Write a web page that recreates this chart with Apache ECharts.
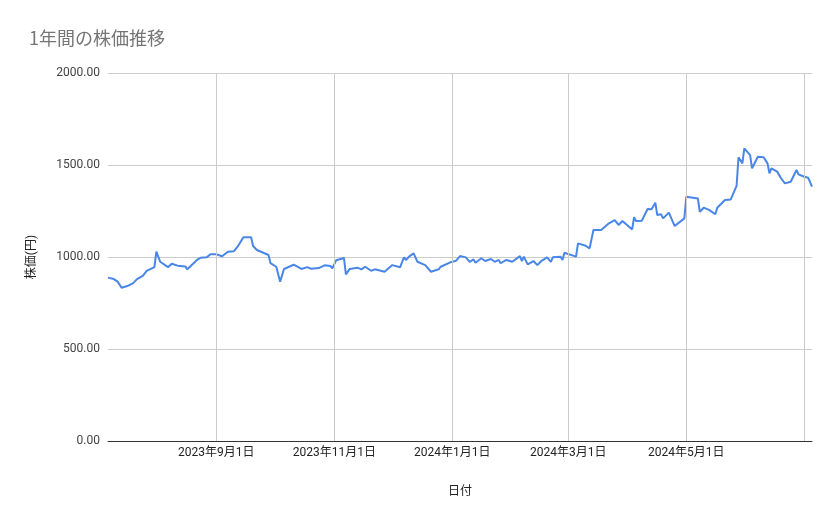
<!DOCTYPE html>
<html>
<head>
<meta charset="utf-8">
<script src="https://cdn.jsdelivr.net/npm/echarts@6/dist/echarts.min.js"></script>
<style>
html,body{margin:0;padding:0;background:#fff;}
#main{width:839px;height:519px;}
</style>
</head>
<body>
<div id="main"></div>
<script>
// 日付と株価
var dates = [
 '2023-07-07','2023-07-10','2023-07-12','2023-07-14','2023-07-17','2023-07-20','2023-07-22','2023-07-25','2023-07-27','2023-07-28',
 '2023-07-31','2023-08-01','2023-08-03','2023-08-07','2023-08-09','2023-08-12','2023-08-16','2023-08-17','2023-08-22','2023-08-24',
 '2023-08-27','2023-08-29','2023-09-01','2023-09-04','2023-09-07','2023-09-10','2023-09-12','2023-09-15','2023-09-19','2023-09-20',
 '2023-09-22','2023-09-28','2023-09-29','2023-10-02','2023-10-04','2023-10-06','2023-10-11','2023-10-15','2023-10-18','2023-10-20',
 '2023-10-24','2023-10-27','2023-10-30','2023-10-31','2023-11-02','2023-11-06','2023-11-07','2023-11-09','2023-11-13','2023-11-15',
 '2023-11-17','2023-11-20','2023-11-22','2023-11-27','2023-12-01','2023-12-05','2023-12-07','2023-12-08','2023-12-10','2023-12-12',
 '2023-12-14','2023-12-18','2023-12-21','2023-12-25','2023-12-26','2023-12-31','2024-01-03','2024-01-05','2024-01-08','2024-01-10',
 '2024-01-12','2024-01-13','2024-01-16','2024-01-18','2024-01-21','2024-01-23','2024-01-25','2024-01-26','2024-01-29','2024-02-01',
 '2024-02-05','2024-02-06','2024-02-07','2024-02-09','2024-02-12','2024-02-14','2024-02-16','2024-02-19','2024-02-21','2024-02-22',
 '2024-02-26','2024-02-27','2024-02-28','2024-03-05','2024-03-06','2024-03-07','2024-03-10','2024-03-12','2024-03-14','2024-03-18',
 '2024-03-22','2024-03-25','2024-03-27','2024-03-29','2024-04-03','2024-04-04','2024-04-05','2024-04-08','2024-04-11','2024-04-13',
 '2024-04-15','2024-04-16','2024-04-18','2024-04-19','2024-04-22','2024-04-25','2024-04-30','2024-05-01','2024-05-07','2024-05-08',
 '2024-05-10','2024-05-13','2024-05-16','2024-05-17','2024-05-21','2024-05-24','2024-05-27','2024-05-28','2024-05-29','2024-05-30',
 '2024-05-31','2024-06-03','2024-06-04','2024-06-05','2024-06-07','2024-06-10','2024-06-12','2024-06-13','2024-06-14','2024-06-17',
 '2024-06-19','2024-06-21','2024-06-24','2024-06-27','2024-06-28','2024-07-01','2024-07-03','2024-07-04','2024-07-05'
];
var prices = [
 888,880,866,833,842,858,880,898,925,918,
 945,1029,974,945,963,953,949,933,984,996,
 998,1015,1015,1004,1029,1031,1056,1107,1107,1060,
 1038,1011,967,947,866,935,958,935,945,936,
 940,955,951,939,982,995,906,935,942,933,
 947,925,933,920,956,944,998,984,1005,1020,
 974,956,920,933,947,971,980,1005,998,974,
 987,969,993,978,989,974,984,966,984,974,
 1005,978,1002,960,978,956,978,998,974,998,
 1002,984,1023,1002,1074,1083,1061,1047,1147,1147,
 1183,1201,1174,1196,1150,1216,1196,1197,1261,1259,
 1295,1228,1232,1210,1241,1168,1210,1328,1318,1246,
 1268,1255,1232,1268,1310,1313,1386,1542,1545,1509,
 1590,1554,1482,1487,1545,1542,1509,1455,1482,1464,
 1428,1400,1409,1473,1449,1436,1431,1428,1383
];
var gridDates = ['2023-09-01','2023-11-01','2024-01-01','2024-03-01','2024-05-01','2024-07-01'];
var gridLabels = ['2023年9月1日','2023年11月1日','2024年1月1日','2024年3月1日','2024年5月1日',''];

var seriesData = [];
for (var i = 0; i < dates.length; i++) {
	seriesData.push([dates[i], prices[i]]);
}
var gridLines = [];
for (var j = 0; j < gridDates.length; j++) {
	gridLines.push({xAxis: gridDates[j], label: {show: gridLabels[j] !== '', formatter: gridLabels[j]}});
}

var myChart = echarts.init(document.getElementById('main'));
var option = {
	animation: false,
	textStyle: {fontFamily: 'Roboto, "Noto Sans CJK JP", sans-serif'},
	title: {
		text: '1年間の株価推移',
		left: 24, top: 24,
		textStyle: {color: '#757575', fontSize: 18, fontWeight: 'normal', fontFamily: '"Noto Sans CJK JP", sans-serif'}
	},
	grid: {left: 108, right: 27, top: 73, bottom: 78},
	xAxis: {
		type: 'time',
		min: '2023-07-07',
		max: '2024-07-05',
		name: '日付',
		nameLocation: 'middle',
		nameGap: 45,
		nameTextStyle: {color: '#222', fontSize: 12},
		axisLine: {show: true, lineStyle: {color: '#333'}},
		axisTick: {show: false},
		splitLine: {show: false},
		axisLabel: {show: false}
	},
	yAxis: {
		type: 'value',
		min: 0, max: 2000, interval: 500,
		name: '株価(円)',
		nameLocation: 'middle',
		nameGap: 70,
		nameRotate: 90,
		nameTextStyle: {color: '#222', fontSize: 12},
		axisLine: {show: false},
		axisTick: {show: false},
		axisLabel: {color: '#444', fontSize: 12, formatter: function(v){ return v.toFixed(2); }},
		splitLine: {lineStyle: {color: '#cccccc'}}
	},
	series: [{
		type: 'line',
		data: seriesData,
		showSymbol: false,
		lineStyle: {color: '#4a86e8', width: 2},
		itemStyle: {color: '#4a86e8'},
		markLine: {
			silent: true,
			symbol: 'none',
			label: {position: 'start', distance: 6, color: '#222', fontSize: 12},
			lineStyle: {color: '#cccccc', type: 'solid', width: 1},
			data: gridLines
		},
		z: 3
	}]
};
myChart.setOption(option);
window.addEventListener('resize', function(){ myChart.resize(); });
</script>
</body>
</html>
